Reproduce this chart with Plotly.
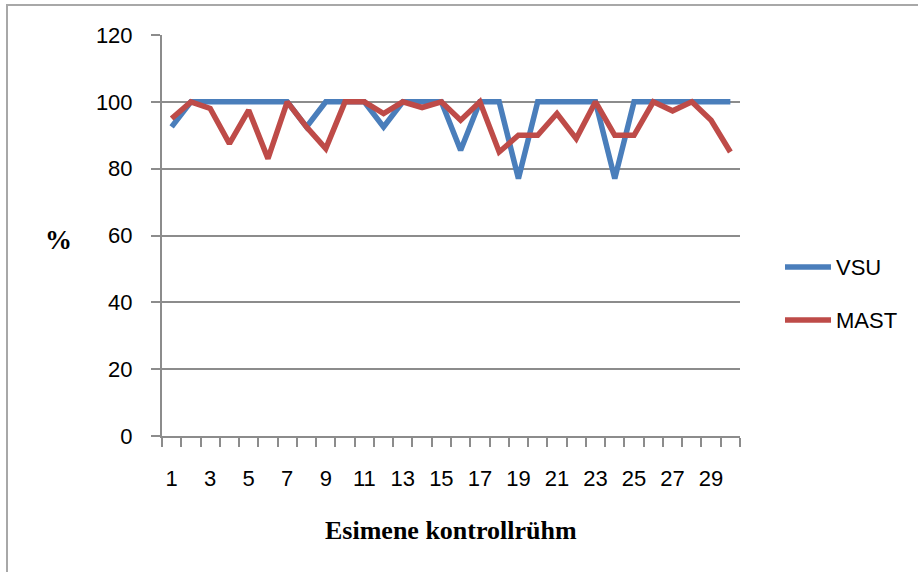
import plotly.graph_objects as go

groups = list(range(1, 31))
vsu = [92.5, 100, 100, 100, 100, 100, 100, 92.5, 100, 100,
       100, 92.5, 100, 100, 100, 85.5, 100, 100, 77, 100,
       100, 100, 100, 77, 100, 100, 100, 100, 100, 100]
mast = [95, 100, 98, 87.5, 97.5, 83, 100, 92.5, 86, 100,
        100, 96.5, 100, 98.3, 100, 94.5, 100, 85, 90, 90,
        96.5, 89, 100, 90, 90, 100, 97.3, 100, 94.5, 85]
xticks = list(range(1, 30, 2))
yticks = [0, 20, 40, 60, 80, 100, 120]
series_names = ["VSU", "MAST"]
series_colors = ["#4A7EBB", "#BE4B48"]

W, H = 918, 572
L, R, T, B = 162, 178, 35, 136
PW, PH = W - L - R, H - T - B


def px(x):
    return (x - L) / PW


def py(y):
    return (H - B - y) / PH


GRAY = "#8c8c8c"
fig = go.Figure()
for name, vals, col in zip(series_names, [vsu, mast], series_colors):
    fig.add_trace(go.Scatter(x=groups, y=vals, mode="lines", name=name,
                             showlegend=False,
                             line=dict(color=col, width=5.5)))

shapes = [
    dict(type="line", xref="paper", yref="paper", x0=px(6), x1=px(W + 5),
         y0=py(5), y1=py(5), line=dict(color="#a8a8a8", width=2)),
    dict(type="line", xref="paper", yref="paper", x0=px(7), x1=px(7),
         y0=py(H + 5), y1=py(5), line=dict(color="#a8a8a8", width=2)),
]
annotations = [
    dict(text="<b>%</b>", x=px(58), y=py(240), xref="paper", yref="paper",
         showarrow=False, xanchor="center", yanchor="middle",
         font=dict(family="Liberation Serif", size=27)),
    dict(text="<b>Esimene kontrollrühm</b>", x=0.5, y=py(530),
         xref="paper", yref="paper", showarrow=False,
         xanchor="center", yanchor="middle",
         font=dict(family="Liberation Serif", size=26)),
]
for i, (name, col) in enumerate(zip(series_names, series_colors)):
    yy = 267 + 53 * i
    shapes.append(dict(type="line", xref="paper", yref="paper",
                       x0=px(785), x1=px(831), y0=py(yy), y1=py(yy),
                       line=dict(color=col, width=5.5)))
    annotations.append(dict(text=name, x=px(834), y=py(yy), xref="paper",
                            yref="paper", showarrow=False, xanchor="left",
                            yanchor="middle",
                            font=dict(family="Liberation Sans", size=22)))

fig.update_layout(
    width=W, height=H,
    margin=dict(l=L, r=R, t=T, b=B),
    paper_bgcolor="white", plot_bgcolor="white",
    font=dict(family="Liberation Sans", size=22, color="#000"),
    showlegend=False,
    xaxis=dict(range=[0.5, 30.5], tickvals=xticks,
               ticktext=[str(v) for v in xticks],
               ticks="", showgrid=False, zeroline=False,
               showline=True, linecolor=GRAY, linewidth=2,
               ticklabelstandoff=22,
               minor=dict(ticks="outside", tick0=0.5, dtick=1, ticklen=9,
                          tickcolor=GRAY, tickwidth=2, showgrid=False)),
    yaxis=dict(range=[0, 120], tickvals=yticks, ticks="outside", ticklen=9,
               tickcolor=GRAY, tickwidth=2, showgrid=True, gridcolor=GRAY,
               gridwidth=2, zeroline=False, showline=True, linecolor=GRAY,
               linewidth=2, ticklabelstandoff=14),
    annotations=annotations,
    shapes=shapes,
)

fig.write_html("out.html", config={"displayModeBar": False},
               post_script="document.body.style.margin='0px';")
